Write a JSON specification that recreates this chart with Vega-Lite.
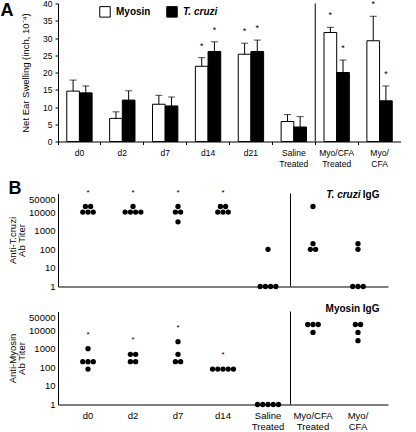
{
  "$schema": "https://vega.github.io/schema/vega-lite/v6.json",
  "padding": {"left": 0, "top": -0.5, "right": 0, "bottom": 0},
  "config": {
    "font": "Liberation Sans",
    "view": {"stroke": null},
    "axis": {"domainColor": "#000", "tickColor": "#000", "labelColor": "#000", "titleColor": "#000", "labelFontSize": 9, "titleFontSize": 9.5, "titleFontWeight": "normal", "grid": false, "tickSize": 3, "labelPadding": 2, "labelOverlap": false},
    "legend": {"padding": 0}
  },
  "datasets": {
    "swelling": [
      {"cat": "d0", "series": "Myosin", "value": 14.6, "upper": 17.8, "sig": false},
      {"cat": "d0", "series": "T. cruzi", "value": 14.1, "upper": 16.1, "sig": false},
      {"cat": "d2", "series": "Myosin", "value": 6.7, "upper": 8.6, "sig": false},
      {"cat": "d2", "series": "T. cruzi", "value": 12.0, "upper": 14.7, "sig": false},
      {"cat": "d7", "series": "Myosin", "value": 10.8, "upper": 13.4, "sig": false},
      {"cat": "d7", "series": "T. cruzi", "value": 10.3, "upper": 12.9, "sig": false},
      {"cat": "d14", "series": "Myosin", "value": 21.8, "upper": 24.3, "sig": true},
      {"cat": "d14", "series": "T. cruzi", "value": 26.1, "upper": 28.9, "sig": true},
      {"cat": "d21", "series": "Myosin", "value": 25.3, "upper": 28.5, "sig": true},
      {"cat": "d21", "series": "T. cruzi", "value": 26.1, "upper": 29.4, "sig": true},
      {"cat": "Saline Treated", "series": "Myosin", "value": 5.8, "upper": 7.8, "sig": false},
      {"cat": "Saline Treated", "series": "T. cruzi", "value": 4.2, "upper": 7.2, "sig": false},
      {"cat": "Myo/CFA Treated", "series": "Myosin", "value": 31.6, "upper": 33.1, "sig": true},
      {"cat": "Myo/CFA Treated", "series": "T. cruzi", "value": 20.0, "upper": 23.6, "sig": true},
      {"cat": "Myo/CFA", "series": "Myosin", "value": 29.2, "upper": 36.3, "sig": true},
      {"cat": "Myo/CFA", "series": "T. cruzi", "value": 11.8, "upper": 16.1, "sig": true}
    ],
    "titers": [
      {"panel": "T. cruzi IgG", "group": "d0", "titer": 20000},
      {"panel": "T. cruzi IgG", "group": "d0", "titer": 20000},
      {"panel": "T. cruzi IgG", "group": "d0", "titer": 10000},
      {"panel": "T. cruzi IgG", "group": "d0", "titer": 10000},
      {"panel": "T. cruzi IgG", "group": "d0", "titer": 10000},
      {"panel": "T. cruzi IgG", "group": "d2", "titer": 20000},
      {"panel": "T. cruzi IgG", "group": "d2", "titer": 10000},
      {"panel": "T. cruzi IgG", "group": "d2", "titer": 10000},
      {"panel": "T. cruzi IgG", "group": "d2", "titer": 10000},
      {"panel": "T. cruzi IgG", "group": "d2", "titer": 10000},
      {"panel": "T. cruzi IgG", "group": "d7", "titer": 20000},
      {"panel": "T. cruzi IgG", "group": "d7", "titer": 10000},
      {"panel": "T. cruzi IgG", "group": "d7", "titer": 10000},
      {"panel": "T. cruzi IgG", "group": "d7", "titer": 3000},
      {"panel": "T. cruzi IgG", "group": "d14", "titer": 20000},
      {"panel": "T. cruzi IgG", "group": "d14", "titer": 20000},
      {"panel": "T. cruzi IgG", "group": "d14", "titer": 10000},
      {"panel": "T. cruzi IgG", "group": "d14", "titer": 10000},
      {"panel": "T. cruzi IgG", "group": "d14", "titer": 10000},
      {"panel": "T. cruzi IgG", "group": "Saline Treated", "titer": 100},
      {"panel": "T. cruzi IgG", "group": "Saline Treated", "titer": 1},
      {"panel": "T. cruzi IgG", "group": "Saline Treated", "titer": 1},
      {"panel": "T. cruzi IgG", "group": "Saline Treated", "titer": 1},
      {"panel": "T. cruzi IgG", "group": "Saline Treated", "titer": 1},
      {"panel": "T. cruzi IgG", "group": "Myo/CFA Treated", "titer": 20000},
      {"panel": "T. cruzi IgG", "group": "Myo/CFA Treated", "titer": 200},
      {"panel": "T. cruzi IgG", "group": "Myo/CFA Treated", "titer": 100},
      {"panel": "T. cruzi IgG", "group": "Myo/CFA Treated", "titer": 100},
      {"panel": "T. cruzi IgG", "group": "Myo/CFA", "titer": 200},
      {"panel": "T. cruzi IgG", "group": "Myo/CFA", "titer": 100},
      {"panel": "T. cruzi IgG", "group": "Myo/CFA", "titer": 1},
      {"panel": "T. cruzi IgG", "group": "Myo/CFA", "titer": 1},
      {"panel": "T. cruzi IgG", "group": "Myo/CFA", "titer": 1},
      {"panel": "Myosin IgG", "group": "d0", "titer": 1000},
      {"panel": "Myosin IgG", "group": "d0", "titer": 200},
      {"panel": "Myosin IgG", "group": "d0", "titer": 200},
      {"panel": "Myosin IgG", "group": "d0", "titer": 200},
      {"panel": "Myosin IgG", "group": "d0", "titer": 80},
      {"panel": "Myosin IgG", "group": "d2", "titer": 500},
      {"panel": "Myosin IgG", "group": "d2", "titer": 500},
      {"panel": "Myosin IgG", "group": "d2", "titer": 200},
      {"panel": "Myosin IgG", "group": "d2", "titer": 200},
      {"panel": "Myosin IgG", "group": "d7", "titer": 2400},
      {"panel": "Myosin IgG", "group": "d7", "titer": 500},
      {"panel": "Myosin IgG", "group": "d7", "titer": 200},
      {"panel": "Myosin IgG", "group": "d7", "titer": 200},
      {"panel": "Myosin IgG", "group": "d14", "titer": 80},
      {"panel": "Myosin IgG", "group": "d14", "titer": 80},
      {"panel": "Myosin IgG", "group": "d14", "titer": 80},
      {"panel": "Myosin IgG", "group": "d14", "titer": 80},
      {"panel": "Myosin IgG", "group": "d14", "titer": 80},
      {"panel": "Myosin IgG", "group": "Saline Treated", "titer": 1},
      {"panel": "Myosin IgG", "group": "Saline Treated", "titer": 1},
      {"panel": "Myosin IgG", "group": "Saline Treated", "titer": 1},
      {"panel": "Myosin IgG", "group": "Saline Treated", "titer": 1},
      {"panel": "Myosin IgG", "group": "Saline Treated", "titer": 1},
      {"panel": "Myosin IgG", "group": "Myo/CFA Treated", "titer": 20000},
      {"panel": "Myosin IgG", "group": "Myo/CFA Treated", "titer": 20000},
      {"panel": "Myosin IgG", "group": "Myo/CFA Treated", "titer": 20000},
      {"panel": "Myosin IgG", "group": "Myo/CFA Treated", "titer": 7500},
      {"panel": "Myosin IgG", "group": "Myo/CFA", "titer": 20000},
      {"panel": "Myosin IgG", "group": "Myo/CFA", "titer": 20000},
      {"panel": "Myosin IgG", "group": "Myo/CFA", "titer": 7500},
      {"panel": "Myosin IgG", "group": "Myo/CFA", "titer": 2700}
    ]
  },
  "spacing": 11,
  "vconcat": [
    {
      "title": {"text": "A", "orient": "left", "anchor": "end", "frame": "group", "angle": 0, "align": "right", "baseline": "alphabetic", "fontSize": 18, "fontWeight": "bold", "offset": -6, "dy": 12, "color": "#000"},
      "width": 343,
      "height": 138,
      "data": {"name": "swelling"},
      "encoding": {
        "x": {"field": "cat", "type": "nominal", "sort": null,
          "scale": {"domain": ["d0", "d2", "d7", "d14", "d21", "Saline Treated", "Myo/CFA Treated", "Myo/CFA"], "paddingInner": 0, "paddingOuter": 0},
          "axis": {"title": null, "labelAngle": 0, "bandPosition": 0, "tickSize": 3, "labelPadding": 4, "labelFontSize": 8.5, "labelLineHeight": 11, "labelBaseline": "top",
            "labelExpr": "datum.label == 'Myo/CFA' ? ['Myo/', 'CFA'] : split(datum.label, ' ')"}},
        "xOffset": {"field": "series", "type": "nominal", "sort": ["Myosin", "T. cruzi"], "scale": {"paddingOuter": 0.69, "paddingInner": 0}}
      },
      "layer": [
        {
          "mark": {"type": "bar", "stroke": "#000", "strokeWidth": 1},
          "encoding": {
            "y": {"field": "value", "type": "quantitative", "scale": {"domain": [0, 40], "nice": false},
              "axis": {"title": "Net Ear Swelling (inch, 10⁻⁴)", "values": [0, 5, 10, 15, 20, 25, 30, 35, 40], "tickCount": 9, "labelOverlap": false, "labelFontSize": 8.5, "labelPadding": 3, "titlePadding": 12}},
            "color": {"field": "series", "type": "nominal", "sort": ["Myosin", "T. cruzi"], "scale": {"range": ["#ffffff", "#000000"]},
              "legend": {"title": null, "orient": "none", "legendX": 41, "legendY": 2, "direction": "horizontal", "symbolType": "square", "symbolSize": 110, "symbolStrokeColor": "#000", "symbolStrokeWidth": 1, "labelFontSize": 10, "labelFontWeight": "bold", "labelColor": "#000", "labelOffset": 5, "columnPadding": 13,
                "labelFontStyle": {"expr": "datum.label == 'T. cruzi' ? 'italic' : 'normal'"}}}
          }
        },
        {
          "mark": {"type": "rule", "color": "#000", "strokeWidth": 1},
          "encoding": {"y": {"field": "value", "type": "quantitative", "axis": {"title": "Net Ear Swelling (inch, 10⁻⁴)", "values": [0, 5, 10, 15, 20, 25, 30, 35, 40], "tickCount": 9, "labelOverlap": false, "labelFontSize": 8.5, "labelPadding": 3, "titlePadding": 12}}, "y2": {"field": "upper"}}
        },
        {
          "mark": {"type": "tick", "color": "#000", "thickness": 1, "size": 7, "orient": "horizontal"},
          "encoding": {"y": {"field": "upper", "type": "quantitative", "axis": {"title": "Net Ear Swelling (inch, 10⁻⁴)", "values": [0, 5, 10, 15, 20, 25, 30, 35, 40], "tickCount": 9, "labelOverlap": false, "labelFontSize": 8.5, "labelPadding": 3, "titlePadding": 12}}}
        },
        {
          "transform": [{"filter": "datum.sig"}],
          "mark": {"type": "text", "text": "*", "fontSize": 9, "dy": -12, "baseline": "middle", "color": "#000"},
          "encoding": {"y": {"field": "upper", "type": "quantitative", "axis": {"title": "Net Ear Swelling (inch, 10⁻⁴)", "values": [0, 5, 10, 15, 20, 25, 30, 35, 40], "tickCount": 9, "labelOverlap": false, "labelFontSize": 8.5, "labelPadding": 3, "titlePadding": 12}}}
        },
        {
          "transform": [{"filter": "datum.cat == 'Myo/CFA Treated' && datum.series == 'Myosin'"}],
          "mark": {"type": "rule", "color": "#000", "strokeWidth": 1},
          "encoding": {"x": {"field": "cat", "type": "nominal", "bandPosition": 0}, "xOffset": null}
        }
      ]
    },
    {
      "spacing": 12,
      "vconcat": [
        {
          "title": {"text": "B", "orient": "left", "anchor": "end", "frame": "group", "angle": 0, "align": "right", "baseline": "alphabetic", "fontSize": 18, "fontWeight": "bold", "offset": 0, "dx": 27, "color": "#000"},
          "width": 330,
          "height": 93,
          "data": {"name": "titers"},
          "transform": [{"filter": "datum.panel == 'T. cruzi IgG'"}],
          "encoding": {
            "x": {"field": "group", "type": "nominal", "sort": null,
              "scale": {"domain": ["d0", "d2", "d7", "d14", "Saline Treated", "Myo/CFA Treated", "Myo/CFA"], "paddingInner": 0, "paddingOuter": 0.167},
              "axis": {"title": null, "labels": false, "ticks": false}}
          },
          "layer": [
            {
              "transform": [
                {"window": [{"op": "row_number", "as": "rn"}], "groupby": ["group", "titer"]},
                {"joinaggregate": [{"op": "count", "as": "n"}], "groupby": ["group", "titer"]},
                {"calculate": "datum.rn - (datum.n + 1) / 2", "as": "off"}
              ],
              "mark": {"type": "point", "filled": true, "color": "#000", "opacity": 1, "size": 28},
              "encoding": {
                "xOffset": {"field": "off", "type": "quantitative", "scale": {"domain": [-4.3, 4.3]}},
                "y": {"field": "titer", "type": "quantitative", "scale": {"type": "log", "domain": [1, 100000], "nice": false},
                  "axis": {"title": ["Anti-T.cruzi", "Ab Titer"], "titleLineHeight": 9, "values": [1, 10, 100, 1000, 10000, 50000], "format": "d", "ticks": false, "labelFontSize": 9.5, "labelPadding": 3, "titlePadding": 2}}
              }
            },
            {
              "transform": [
                {"filter": {"field": "group", "oneOf": ["d0", "d2", "d7", "d14"]}},
                {"aggregate": [{"op": "max", "field": "titer", "as": "top"}], "groupby": ["group"]}
              ],
              "mark": {"type": "text", "text": "*", "fontSize": 8, "dy": -14, "baseline": "middle", "color": "#000"},
              "encoding": {"y": {"field": "top", "type": "quantitative"}}
            },
            {
              "transform": [{"filter": "datum.group == 'Myo/CFA Treated' && datum.titer == 20000"}],
              "mark": {"type": "rule", "color": "#000", "strokeWidth": 1},
              "encoding": {"x": {"field": "group", "type": "nominal", "bandPosition": 0}}
            },
            {
              "data": {"values": [{}]},
              "mark": {"type": "text", "text": "IgG", "fontSize": 10, "fontWeight": "bold", "align": "right", "baseline": "alphabetic", "dx": -1, "color": "#000"},
              "encoding": {"x": {"datum": "Myo/CFA", "type": "nominal", "bandPosition": 1}, "y": {"datum": 60000, "type": "quantitative"}}
            },
            {
              "data": {"values": [{}]},
              "mark": {"type": "text", "text": "T. cruzi", "fontSize": 10, "fontWeight": "bold", "fontStyle": "italic", "align": "right", "baseline": "alphabetic", "dx": -20, "color": "#000"},
              "encoding": {"x": {"datum": "Myo/CFA", "type": "nominal", "bandPosition": 1}, "y": {"datum": 60000, "type": "quantitative"}}
            }
          ]
        },
        {
          "width": 330,
          "height": 93,
          "data": {"name": "titers"},
          "transform": [{"filter": "datum.panel == 'Myosin IgG'"}],
          "encoding": {
            "x": {"field": "group", "type": "nominal", "sort": null,
              "scale": {"domain": ["d0", "d2", "d7", "d14", "Saline Treated", "Myo/CFA Treated", "Myo/CFA"], "paddingInner": 0, "paddingOuter": 0.167},
              "axis": {"title": null, "labelAngle": 0, "ticks": false, "labelFontSize": 9.5, "labelPadding": 6, "labelLineHeight": 11, "labelBaseline": "top",
                "labelExpr": "datum.label == 'Myo/CFA' ? ['Myo/', 'CFA'] : split(datum.label, ' ')"}}
          },
          "layer": [
            {
              "transform": [
                {"window": [{"op": "row_number", "as": "rn"}], "groupby": ["group", "titer"]},
                {"joinaggregate": [{"op": "count", "as": "n"}], "groupby": ["group", "titer"]},
                {"calculate": "datum.rn - (datum.n + 1) / 2", "as": "off"}
              ],
              "mark": {"type": "point", "filled": true, "color": "#000", "opacity": 1, "size": 28},
              "encoding": {
                "xOffset": {"field": "off", "type": "quantitative", "scale": {"domain": [-4.3, 4.3]}},
                "y": {"field": "titer", "type": "quantitative", "scale": {"type": "log", "domain": [1, 100000], "nice": false},
                  "axis": {"title": ["Anti-Myosin", "Ab Titer"], "titleLineHeight": 9, "values": [1, 10, 100, 1000, 10000, 50000], "format": "d", "ticks": false, "labelFontSize": 9.5, "labelPadding": 3, "titlePadding": 2}}
              }
            },
            {
              "transform": [
                {"filter": {"field": "group", "oneOf": ["d0", "d2", "d7", "d14"]}},
                {"aggregate": [{"op": "max", "field": "titer", "as": "top"}], "groupby": ["group"]}
              ],
              "mark": {"type": "text", "text": "*", "fontSize": 8, "dy": -14, "baseline": "middle", "color": "#000"},
              "encoding": {"y": {"field": "top", "type": "quantitative"}}
            },
            {
              "transform": [{"filter": "datum.group == 'Myo/CFA Treated' && datum.titer == 7500"}],
              "mark": {"type": "rule", "color": "#000", "strokeWidth": 1},
              "encoding": {"x": {"field": "group", "type": "nominal", "bandPosition": 0}}
            },
            {
              "data": {"values": [{}]},
              "mark": {"type": "text", "text": "Myosin IgG", "fontSize": 10, "fontWeight": "bold", "align": "right", "baseline": "alphabetic", "dx": -1, "color": "#000"},
              "encoding": {"x": {"datum": "Myo/CFA", "type": "nominal", "bandPosition": 1}, "y": {"datum": 90000, "type": "quantitative"}}
            }
          ]
        }
      ]
    }
  ]
}
